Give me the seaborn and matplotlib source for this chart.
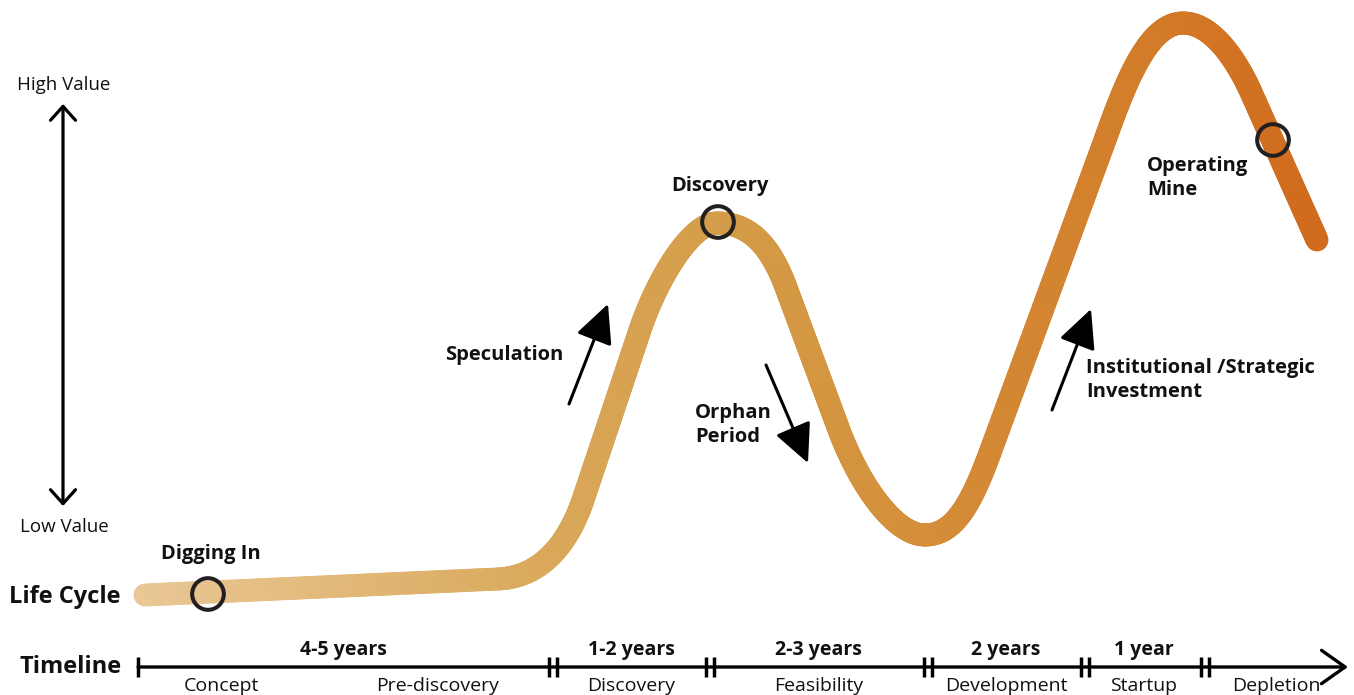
import numpy as np
import matplotlib
matplotlib.use("Agg")
import matplotlib.pyplot as plt
import seaborn as sns
from matplotlib.path import Path
from matplotlib.collections import LineCollection
from matplotlib.colors import LinearSegmentedColormap, Normalize

# ---- data -------------------------------------------------------------
# Life-cycle curve: anchor points and control points of the value path
curve_verts = [
    (145, 595), (498, 579),
    (545, 577), (570, 538), (583, 500),
    (640, 330),
    (656, 282), (690, 223), (717, 223),
    (748, 223), (770, 243), (787, 290),
    (839, 430),
    (860, 486), (895, 535), (925, 535),
    (955, 535), (972, 502), (991, 450),
    (1105, 140),
    (1125, 84), (1148, 23), (1183, 23),
    (1213, 23), (1237, 62), (1250, 90),
    (1317, 240),
]
curve_codes = ([Path.MOVETO, Path.LINETO]
               + [Path.CURVE4] * 3 + [Path.LINETO]
               + [Path.CURVE4] * 6 + [Path.LINETO]
               + [Path.CURVE4] * 6 + [Path.LINETO]
               + [Path.CURVE4] * 6 + [Path.LINETO])

milestones = ["Digging In", "Discovery", "Operating\nMine"]
milestone_x = [208, 718, 1273]
milestone_y = [594, 222, 140]

phases = ["Speculation", "Orphan\nPeriod", "Institutional /Strategic\nInvestment"]

durations = ["4-5 years", "1-2 years", "2-3 years", "2 years", "1 year"]
stages = ["Concept", "Pre-discovery", "Discovery", "Feasibility",
          "Development", "Startup", "Depletion"]

# ---- figure -----------------------------------------------------------
sns.set_theme(style="white")
plt.rcParams["font.family"] = ["Open Sans", "DejaVu Sans"]

W, H = 1354, 695
fig = plt.figure(figsize=(W / 100, H / 100), dpi=100)
ax = fig.add_axes([0, 0, 1, 1])

# gradient-coloured thick curve
path = Path(curve_verts, curve_codes)
pts = []
for seg, _ in path.iter_bezier():
    t = np.linspace(0, 1, 60)
    p = seg(t)
    pts.append(p if not pts else p[1:])
pts = np.vstack(pts)
segs = np.stack([pts[:-1], pts[1:]], axis=1)
cmap = LinearSegmentedColormap.from_list(
    "ore",
    [(0.00, "#E9C896"), (0.35, "#D9A85A"), (0.49, "#D49D49"),
     (0.66, "#D48F3A"), (0.88, "#D27A27"), (1.00, "#D16B1E")])
norm = Normalize(145, 1317)
mid_x = (segs[:, 0, 0] + segs[:, 1, 0]) / 2
lc = LineCollection(segs, colors=cmap(norm(mid_x)), linewidths=16.5,
                    capstyle="round", joinstyle="round", zorder=2)
ax.add_collection(lc)

# milestone rings
sns.scatterplot(x=milestone_x, y=milestone_y, s=520, color="none",
                edgecolor="#231f20", linewidth=2.9, ax=ax, zorder=4,
                legend=False)
for coll in ax.collections[1:]:
    coll.set_facecolor("none")
ax.set_xlim(0, W)
ax.set_ylim(H, 0)
ax.axis("off")

bold = dict(fontweight="bold", color="#111111")
lab_fs = 14.5

# milestone labels
ax.text(211, 554, milestones[0], fontsize=lab_fs, ha="center", va="center", **bold)
ax.text(720, 186, milestones[1], fontsize=lab_fs, ha="center", va="center", **bold)
ax.text(1147, 178, milestones[2], fontsize=lab_fs, ha="left", va="center",
        linespacing=1.3, **bold)

# phase annotations with arrows
arrow_kw = dict(arrowstyle="-|>,head_length=1.2,head_width=0.58",
                mutation_scale=20, lw=2.2, color="black",
                shrinkA=0, shrinkB=0)
ax.annotate("", xy=(608, 304), xytext=(569, 404), arrowprops=arrow_kw)
ax.annotate("", xy=(808, 463), xytext=(766, 365), arrowprops=arrow_kw)
ax.annotate("", xy=(1091, 309), xytext=(1052, 410), arrowprops=arrow_kw)
ax.text(504, 355, phases[0], fontsize=lab_fs, ha="center", va="center", **bold)
ax.text(695, 425, phases[1], fontsize=lab_fs, ha="left", va="center",
        linespacing=1.3, **bold)
ax.text(1086, 380, phases[2], fontsize=lab_fs, ha="left", va="center",
        linespacing=1.3, **bold)

# value axis
ax.annotate("", xy=(63, 104), xytext=(63, 506),
            arrowprops=dict(arrowstyle="<->,head_length=0.5,head_width=0.45",
                            mutation_scale=20, lw=2.3, color="black",
                            shrinkA=0, shrinkB=0))
ax.text(64, 85, "High Value", fontsize=13.5, ha="center", va="center",
        color="#111111")
ax.text(64, 527, "Low Value", fontsize=13.5, ha="center", va="center",
        color="#111111")

ax.text(9, 597, "Life Cycle", fontsize=17, ha="left", va="center", **bold)
ax.text(19, 667, "Timeline", fontsize=17, ha="left", va="center", **bold)

# timeline
ty = 667
ax.annotate("", xy=(1348, ty), xytext=(138, ty),
            arrowprops=dict(arrowstyle="->,head_length=0.85,head_width=0.6",
                            mutation_scale=20, lw=2.4, color="black",
                            shrinkA=0, shrinkB=0))
ax.plot([138, 138], [657, 677], color="black", lw=2.5, solid_capstyle="butt")
breaks = [553, 710, 928, 1085, 1205]
for bx in breaks:
    for dx in (-4, 4):
        ax.plot([bx + dx] * 2, [657, 677], color="black", lw=2.5,
                solid_capstyle="butt")

dur_x = [343, 631, 818, 1006, 1144]
for lab, x in zip(durations, dur_x):
    ax.text(x, 650, lab, fontsize=14, ha="center", va="center", **bold)

stage_x = [221, 438, 631, 819, 1006, 1144, 1276]
for lab, x in zip(stages, stage_x):
    ax.text(x, 686, lab, fontsize=14, ha="center", va="center",
            color="#111111")

fig.savefig("out.png", dpi=100)
